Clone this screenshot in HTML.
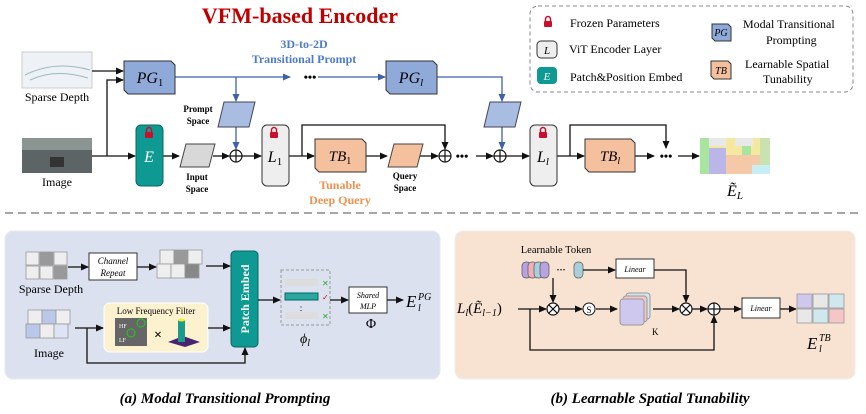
<!DOCTYPE html>
<html><head><meta charset="utf-8"><style>body{margin:0;background:#fff}svg{display:block}</style></head><body>
<svg width="866" height="414" viewBox="0 0 866 414" xmlns="http://www.w3.org/2000/svg" font-family="Liberation Serif, serif">
<defs>
<marker id="a" markerWidth="8" markerHeight="8" refX="7" refY="4" orient="auto" markerUnits="userSpaceOnUse"><path d="M0,0.5 L8,4 L0,7.5z" fill="#111"/></marker>
<marker id="b" markerWidth="8" markerHeight="8" refX="7" refY="4" orient="auto" markerUnits="userSpaceOnUse"><path d="M0,0.5 L8,4 L0,7.5z" fill="#3d62aa"/></marker>
<g id="lock"><rect x="-4" y="-1" width="8" height="6" rx="1" fill="#c8102e"/><path d="M-2.5,-1 v-2 a2.5,2.5 0 0 1 5,0 v2" fill="none" stroke="#c8102e" stroke-width="1.5"/></g>
<g id="plus"><circle r="6" fill="#fff" stroke="#111" stroke-width="1.2"/><path d="M-6,0H6M0,-6V6" stroke="#111" stroke-width="1.2"/></g>
<g id="times"><circle r="6" fill="#fff" stroke="#111" stroke-width="1.2"/><path d="M-4.2,-4.2L4.2,4.2M4.2,-4.2L-4.2,4.2" stroke="#111" stroke-width="1.2"/></g>
</defs>

<text x="300" y="23" text-anchor="middle" font-size="22" font-weight="bold" fill="#c00000">VFM-based Encoder</text>

<!-- inputs -->
<rect x="22" y="52" width="70" height="36" fill="#eef2f6" stroke="#ccc"/>
<path d="M25,75 Q55,60 90,70 M30,80 Q55,68 88,78" stroke="#9bb" fill="none"/>
<text x="57" y="101" text-anchor="middle" font-size="12">Sparse Depth</text>
<rect x="22" y="138" width="70" height="35" fill="#5d6466"/>
<rect x="22" y="138" width="70" height="12" fill="#8a9490"/>
<rect x="50" y="157" width="14" height="10" fill="#333"/>
<text x="57" y="186" text-anchor="middle" font-size="12">Image</text>

<g stroke="#111" stroke-width="1.3" fill="none">
<path d="M92,71H123" marker-end="url(#a)"/>
<path d="M92,156H135" marker-end="url(#a)"/>
<path d="M107,156V80H123" marker-end="url(#a)"/>
<path d="M163,156H179" marker-end="url(#a)"/>
<path d="M213,156H229" marker-end="url(#a)"/>
<path d="M242,156H261" marker-end="url(#a)"/>
<path d="M289,156H314" marker-end="url(#a)"/>
<path d="M302,156V125H445V149" marker-end="url(#a)"/>
<path d="M366,156H387" marker-end="url(#a)"/>
<path d="M420,156H438" marker-end="url(#a)"/>
<path d="M476,156H493" marker-end="url(#a)"/>
<path d="M506,156H529" marker-end="url(#a)"/>
<path d="M557,156H584" marker-end="url(#a)"/>
<path d="M570,156V125H666V148" marker-end="url(#a)"/>
<path d="M635,156H654" marker-end="url(#a)"/>
<path d="M678,156H699" marker-end="url(#a)"/>
</g>
<g stroke="#3d62aa" stroke-width="1.3" fill="none">
<path d="M175,77H290" marker-end="url(#b)"/>
<path d="M318,77H385" marker-end="url(#b)"/>
<path d="M236,77V101" marker-end="url(#b)"/>
<path d="M236,127V149" marker-end="url(#b)"/>
<path d="M437,77H502V101" marker-end="url(#b)"/>
<path d="M502,127V149" marker-end="url(#b)"/>
</g>
<text x="310" y="81" text-anchor="middle" font-size="12" font-weight="bold">•••</text>
<text x="304" y="48" text-anchor="middle" font-size="12" font-weight="bold" fill="#4f7bc7">3D-to-2D</text>
<text x="304" y="63" text-anchor="middle" font-size="12" font-weight="bold" fill="#4f7bc7">Transitional Prompt</text>

<!-- PG boxes -->
<path d="M124,61H171L175,65V94H128L124,90Z" fill="#8fa9d8" stroke="#333" stroke-width="1"/>
<text x="150" y="83" text-anchor="middle" font-size="16" font-style="italic">PG<tspan font-size="11" font-style="normal" dy="3">1</tspan></text>
<path d="M386,61H433L437,65V94H390L386,90Z" fill="#8fa9d8" stroke="#333" stroke-width="1"/>
<text x="411" y="83" text-anchor="middle" font-size="16" font-style="italic">PG<tspan font-size="11" dy="3">l</tspan></text>

<!-- parallelograms -->
<path d="M224,102H255L249,127H218Z" fill="#a9bde3" stroke="#445"/>
<text x="198" y="112" text-anchor="middle" font-size="9" font-weight="bold">Prompt</text>
<text x="198" y="124" text-anchor="middle" font-size="9" font-weight="bold">Space</text>
<path d="M490,102H521L515,127H484Z" fill="#a9bde3" stroke="#445"/>
<path d="M186,144H215L209,167H180Z" fill="#d8d8d8" stroke="#444"/>
<text x="197" y="180" text-anchor="middle" font-size="9" font-weight="bold">Input</text>
<text x="197" y="192" text-anchor="middle" font-size="9" font-weight="bold">Space</text>
<path d="M394,144H423L417,167H388Z" fill="#f5c09e" stroke="#444"/>
<text x="405" y="179" text-anchor="middle" font-size="9" font-weight="bold">Query</text>
<text x="405" y="191" text-anchor="middle" font-size="9" font-weight="bold">Space</text>

<!-- E, L boxes -->
<rect x="136" y="125" width="27" height="61" rx="5" fill="#0e9a93" stroke="#0a6662"/>
<use href="#lock" x="149" y="133"/>
<text x="149" y="162" text-anchor="middle" font-size="16" font-style="italic" fill="#fff">E</text>
<rect x="262" y="125" width="27" height="61" rx="5" fill="#eeeeee" stroke="#333"/>
<use href="#lock" x="274" y="133"/>
<text x="275" y="162" text-anchor="middle" font-size="16" font-style="italic">L<tspan font-size="11" font-style="normal" dy="3">1</tspan></text>
<rect x="530" y="125" width="27" height="61" rx="5" fill="#eeeeee" stroke="#333"/>
<use href="#lock" x="543" y="133"/>
<text x="543" y="162" text-anchor="middle" font-size="16" font-style="italic">L<tspan font-size="11" dy="3">l</tspan></text>

<use href="#plus" x="236" y="156"/><use href="#plus" x="445" y="156"/><use href="#plus" x="500" y="156"/>
<text x="462" y="160" text-anchor="middle" font-size="12" font-weight="bold">•••</text>
<text x="666" y="160" text-anchor="middle" font-size="12" font-weight="bold">•••</text>

<path d="M315,139H362L366,143V172H319L315,168Z" fill="#f5c09e" stroke="#333"/>
<text x="340" y="161" text-anchor="middle" font-size="15" font-style="italic">TB<tspan font-size="10" font-style="normal" dy="3">1</tspan></text>
<path d="M585,139H631L635,143V172H589L585,168Z" fill="#f5c09e" stroke="#333"/>
<text x="610" y="161" text-anchor="middle" font-size="15" font-style="italic">TB<tspan font-size="10" dy="3">l</tspan></text>
<text x="340" y="189" text-anchor="middle" font-size="12" font-weight="bold" fill="#f0914e">Tunable</text>
<text x="340" y="204" text-anchor="middle" font-size="12" font-weight="bold" fill="#f0914e">Deep Query</text>

<!-- output grid -->
<g>
<rect x="700" y="138" width="70" height="36" fill="#f5e9a0"/>
<rect x="700" y="138" width="9" height="36" fill="#a8e6a0"/>
<rect x="709" y="148" width="17" height="26" fill="#bbb6ea"/>
<rect x="726" y="155" width="16" height="19" fill="#f5c9a8"/>
<rect x="742" y="138" width="9" height="17" fill="#a8e6a0"/>
<rect x="742" y="155" width="18" height="19" fill="#f5c9a8"/>
<rect x="760" y="138" width="10" height="36" fill="#c8e3b0"/>
<rect x="752" y="165" width="18" height="9" fill="#c8eef5"/>
<rect x="709" y="138" width="17" height="8" fill="#e8e8e8"/>
<rect x="735" y="138" width="18" height="8" fill="#e8e8e8"/>
</g>
<text x="735" y="196" text-anchor="middle" font-size="16" font-style="italic">Ẽ<tspan font-size="11" dy="3">L</tspan></text>

<!-- legend -->
<rect x="530" y="6" width="323" height="86" rx="8" fill="none" stroke="#888" stroke-dasharray="4,3"/>
<use href="#lock" x="548" y="22"/>
<text x="570" y="27" font-size="12">Frozen Parameters</text>
<rect x="537" y="41" width="20" height="17" rx="4" fill="#eee" stroke="#333"/>
<text x="547" y="54" text-anchor="middle" font-size="11" font-style="italic">L</text>
<text x="569" y="53" font-size="12">ViT Encoder Layer</text>
<rect x="537" y="67" width="20" height="17" rx="4" fill="#0e9a93"/>
<text x="547" y="80" text-anchor="middle" font-size="11" font-style="italic" fill="#fff">E</text>
<text x="570" y="81" font-size="12">Patch&amp;Position Embed</text>
<path d="M712,24H728L731,27V41H715L712,38Z" fill="#8fa9d8" stroke="#333"/>
<text x="721" y="36" text-anchor="middle" font-size="10" font-style="italic">PG</text>
<text x="743" y="28" font-size="12">Modal Transitional</text>
<text x="766" y="44" font-size="12">Prompting</text>
<path d="M711,61H728L731,64V79H714L711,76Z" fill="#f5c09e" stroke="#333"/>
<text x="721" y="74" text-anchor="middle" font-size="10" font-style="italic">TB</text>
<text x="745" y="68" font-size="12">Learnable Spatial</text>
<text x="763" y="83" font-size="12">Tunability</text>

<line x1="5" y1="213" x2="860" y2="213" stroke="#888" stroke-width="1.5" stroke-dasharray="8,5"/>

<!-- panel a -->
<rect x="5" y="231" width="435" height="148" rx="8" fill="#dce1f0" stroke="#e8e8ee"/>
<g stroke="#999" stroke-width="0.8">
<rect x="26" y="252" width="13" height="13" fill="#eee"/><rect x="40" y="252" width="13" height="13" fill="#999"/><rect x="54" y="252" width="13" height="13" fill="#eee"/>
<rect x="26" y="266" width="13" height="13" fill="#eee"/><rect x="40" y="266" width="13" height="13" fill="#eee"/><rect x="54" y="266" width="13" height="13" fill="#999"/>
<rect x="160" y="250" width="14" height="14" fill="#eee"/><rect x="174" y="250" width="14" height="14" fill="#999"/><rect x="188" y="250" width="14" height="14" fill="#eee"/>
<rect x="157" y="264" width="14" height="14" fill="#eee"/><rect x="171" y="264" width="14" height="14" fill="#eee"/><rect x="185" y="264" width="14" height="14" fill="#888"/>
<rect x="28" y="310" width="14" height="14" fill="#eee"/><rect x="42" y="310" width="14" height="14" fill="#b9c8e8"/><rect x="56" y="310" width="14" height="14" fill="#eee"/>
<rect x="26" y="324" width="14" height="14" fill="#b9c8e8"/><rect x="40" y="324" width="14" height="14" fill="#eee"/><rect x="54" y="324" width="14" height="14" fill="#dde4f4"/>
</g>
<text x="51" y="293" text-anchor="middle" font-size="12">Sparse Depth</text>
<text x="49" y="357" text-anchor="middle" font-size="12">Image</text>
<rect x="89" y="253" width="48" height="27" fill="#fff" stroke="#333"/>
<text x="113" y="264" text-anchor="middle" font-size="9" font-style="italic">Channel</text>
<text x="113" y="276" text-anchor="middle" font-size="9" font-style="italic">Repeat</text>
<rect x="104" y="303" width="104" height="49" rx="6" fill="#fdf2cf" stroke="#fff"/>
<text x="156" y="314" text-anchor="middle" font-size="9">Low Frequency Filter</text>
<rect x="115" y="318" width="32" height="28" fill="#666"/>
<text x="119" y="328" font-size="6" fill="#fff">HF</text><text x="119" y="342" font-size="6" fill="#fff">LF</text>
<circle cx="141" cy="323" r="4" fill="none" stroke="#2c2"/><circle cx="131" cy="333" r="4" fill="none" stroke="#2c2"/>
<text x="158" y="339" text-anchor="middle" font-size="14" font-weight="bold">×</text>
<path d="M168,342L183,336L200,342L185,347Z" fill="#4a2370"/>
<rect x="178" y="320" width="7" height="22" fill="#1e9a8a"/><ellipse cx="181.5" cy="320" rx="3.5" ry="1.5" fill="#ee3"/>
<rect x="231" y="251" width="27" height="96" rx="4" fill="#0e9a93" stroke="#0a6662"/>
<text transform="translate(249,299) rotate(-90)" text-anchor="middle" font-size="12" font-weight="bold" fill="#fff">Patch Embed</text>
<g stroke="#111" stroke-width="1.3" fill="none">
<path d="M68,267H88" marker-end="url(#a)"/>
<path d="M137,267H156" marker-end="url(#a)"/>
<path d="M206,266H230" marker-end="url(#a)"/>
<path d="M75,328H103" marker-end="url(#a)"/>
<path d="M208,328H230" marker-end="url(#a)"/>
<path d="M87,328V363H245V348" marker-end="url(#a)"/>
<path d="M258,300H280" marker-end="url(#a)"/>
<path d="M330,300H348" marker-end="url(#a)"/>
<path d="M387,300H403" marker-end="url(#a)"/>
</g>
<rect x="281" y="270" width="49" height="55" fill="none" stroke="#999" stroke-dasharray="3,2"/>
<rect x="285" y="279" width="33" height="7" fill="#ddd"/><text x="322" y="286" font-size="8" fill="#2a2">✕</text>
<rect x="285" y="293" width="33" height="7" fill="#2aa8a0" stroke="#066"/><text x="322" y="300" font-size="8" fill="#d00">✓</text>
<text x="301" y="313" text-anchor="middle" font-size="9">⋮</text>
<rect x="285" y="312" width="33" height="7" fill="#ddd"/><text x="322" y="319" font-size="8" fill="#2a2">✕</text>
<text x="305" y="343" text-anchor="middle" font-size="14" font-style="italic">ϕ<tspan font-size="10" dy="3">l</tspan></text>
<rect x="349" y="287" width="38" height="26" fill="#fff" stroke="#333"/>
<text x="368" y="298" text-anchor="middle" font-size="8" font-style="italic">Shared</text>
<text x="368" y="309" text-anchor="middle" font-size="8" font-style="italic">MLP</text>
<text x="371" y="328" text-anchor="middle" font-size="14">Φ</text>
<text x="406" y="307" font-size="17" font-style="italic">E</text><text x="418" y="300" font-size="10" font-style="italic">PG</text><text x="418" y="311" font-size="10" font-style="italic">l</text>
<text x="225" y="403" text-anchor="middle" font-size="15" font-weight="bold" font-style="italic">(a) Modal Transitional Prompting</text>

<!-- panel b -->
<rect x="455" y="231" width="400" height="148" rx="8" fill="#f8e3d3" stroke="#eee"/>
<text x="556" y="253" text-anchor="middle" font-size="10.5">Learnable Token</text>
<g stroke="#555" stroke-width="0.7">
<rect x="522" y="262" width="9" height="16" rx="4" fill="#b9a2e0"/><rect x="528" y="262" width="9" height="16" rx="4" fill="#f0b0b8"/>
<rect x="534" y="262" width="9" height="16" rx="4" fill="#a8d0dc"/><rect x="540" y="262" width="9" height="16" rx="4" fill="#b9a2e0"/>
<rect x="574" y="262" width="9" height="16" rx="4" fill="#a8d0dc"/>
</g>
<text x="561" y="273" text-anchor="middle" font-size="9" font-weight="bold">···</text>
<rect x="616" y="259" width="38" height="19" fill="#fff" stroke="#333"/>
<text x="635" y="272" text-anchor="middle" font-size="8" font-style="italic">Linear</text>
<text x="457" y="313" font-size="15" font-style="italic">L<tspan font-size="10" dy="3">l</tspan><tspan dy="-3" font-style="normal">(</tspan>Ẽ<tspan font-size="10" dy="3">l−1</tspan><tspan dy="-3" font-style="normal">)</tspan></text>
<g stroke="#111" stroke-width="1.3" fill="none">
<path d="M583,270H615" marker-end="url(#a)"/>
<path d="M654,270H686V302" marker-end="url(#a)"/>
<path d="M553,278V302" marker-end="url(#a)"/>
<path d="M518,309H546" marker-end="url(#a)"/>
<path d="M559,309H582" marker-end="url(#a)"/>
<path d="M596,309H617" marker-end="url(#a)"/>
<path d="M653,309H679" marker-end="url(#a)"/>
<path d="M692,309H707" marker-end="url(#a)"/>
<path d="M720,309H741" marker-end="url(#a)"/>
<path d="M780,309H796" marker-end="url(#a)"/>
<path d="M530,309V350H714V316" marker-end="url(#a)"/>
</g>
<use href="#times" x="553" y="309"/><use href="#times" x="686" y="309"/><use href="#plus" x="714" y="309"/>
<circle cx="589" cy="309" r="6" fill="#fff" stroke="#111"/><text x="589" y="313" text-anchor="middle" font-size="9">S</text>
<rect x="626" y="293" width="24" height="26" rx="3" fill="#cfe8ef" stroke="#999"/>
<rect x="623" y="296" width="24" height="26" rx="3" fill="#f5c5c8" stroke="#999"/>
<rect x="620" y="299" width="24" height="26" rx="3" fill="#cfc8ee" stroke="#999"/>
<text x="652" y="335" font-size="9">K</text>
<rect x="742" y="298" width="38" height="20" fill="#fff" stroke="#333"/>
<text x="761" y="311" text-anchor="middle" font-size="8" font-style="italic">Linear</text>
<g stroke="#999" stroke-width="0.8">
<rect x="797" y="294" width="15" height="14" fill="#cfc8ee"/><rect x="813" y="294" width="15" height="14" fill="#e8e8e8"/><rect x="829" y="294" width="15" height="14" fill="#cfe8ef"/>
<rect x="797" y="309" width="15" height="14" fill="#e8e8e8"/><rect x="813" y="309" width="15" height="14" fill="#cfe8ef"/><rect x="829" y="309" width="15" height="14" fill="#f5c5c8"/>
</g>
<text x="807" y="349" font-size="17" font-style="italic">E</text><text x="819" y="341" font-size="10" font-style="italic">TB</text><text x="819" y="352" font-size="10" font-style="italic">l</text>
<text x="650" y="403" text-anchor="middle" font-size="15" font-weight="bold" font-style="italic">(b) Learnable Spatial Tunability</text>
</svg>
</body></html>
